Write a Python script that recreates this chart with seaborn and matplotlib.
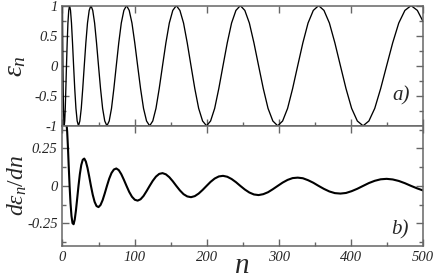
import seaborn as sns
import matplotlib.pyplot as plt
from matplotlib.ticker import FixedLocator, FixedFormatter, MultipleLocator

# values
n = [0, 0.04, 0.15, 0.35, 0.62, 0.96, 1.39, 1.89, 2.47, 3.12, 3.86, 4.66, 5.55, 6.52, 7.56, 8.67,
     9.87, 11.14, 12.49, 13.92, 15.42, 17.0, 18.66, 20.39, 22.21, 24.1, 26.06, 28.11, 30.23, 32.42, 34.7, 37.05,
     39.48, 41.98, 44.57, 47.23, 49.97, 52.78, 55.67, 58.64, 61.68, 64.81, 68.01, 71.29, 74.64, 78.07, 81.58, 85.16,
     88.83, 92.57, 96.38, 100.28, 104.25, 108.3, 112.42, 116.62, 120.9, 125.26, 129.69, 134.2, 138.79, 143.46, 148.2, 153.02,
     157.91, 162.89, 167.94, 173.06, 178.27, 183.55, 188.91, 194.35, 199.86, 205.45, 211.12, 216.86, 222.68, 228.58, 234.56, 240.61,
     246.74, 252.95, 259.23, 265.59, 272.03, 278.55, 285.14, 291.81, 298.55, 305.38, 312.28, 319.26, 326.31, 333.45, 340.66, 347.94,
     355.31, 362.75, 370.26, 377.86, 385.53, 393.28, 401.11, 409.01, 416.99, 425.05, 433.18, 441.39, 449.68, 458.05, 466.49, 475.01,
     483.61, 492.28, 500]

eps = [1, 0.92, 0.71, 0.38, 0, -0.38, -0.71, -0.92, -1, -0.92, -0.71, -0.38, 0, 0.38, 0.71, 0.92,
       1, 0.92, 0.71, 0.38, 0, -0.38, -0.71, -0.92, -1, -0.92, -0.71, -0.38, 0, 0.38, 0.71, 0.92,
       1, 0.92, 0.71, 0.38, 0, -0.38, -0.71, -0.92, -1, -0.92, -0.71, -0.38, 0, 0.38, 0.71, 0.92,
       1, 0.92, 0.71, 0.38, 0, -0.38, -0.71, -0.92, -1, -0.92, -0.71, -0.38, 0, 0.38, 0.71, 0.92,
       1, 0.92, 0.71, 0.38, 0, -0.38, -0.71, -0.92, -1, -0.92, -0.71, -0.38, 0, 0.38, 0.71, 0.92,
       1, 0.92, 0.71, 0.38, 0, -0.38, -0.71, -0.92, -1, -0.92, -0.71, -0.38, 0, 0.38, 0.71, 0.92,
       1, 0.92, 0.71, 0.38, 0, -0.38, -0.71, -0.92, -1, -0.92, -0.71, -0.38, 0, 0.38, 0.71, 0.92,
       1, 0.92, 0.74]

# derivative starts at n[11] (it enters from above the panel)
deps = [0.43, 0.42, 0.36, 0.26, 0.13, 0,
        -0.115, -0.2, -0.248, -0.255, -0.224, -0.164, -0.085, 0,
        0.078, 0.139, 0.174, 0.182, 0.162, 0.12, 0.063, 0,
        -0.059, -0.106, -0.134, -0.141, -0.127, -0.095, -0.05, 0,
        0.048, 0.086, 0.109, 0.116, 0.105, 0.078, 0.041, 0,
        -0.04, -0.072, -0.092, -0.098, -0.089, -0.067, -0.035, 0,
        0.034, 0.062, 0.08, 0.085, 0.077, 0.058, 0.031, 0,
        -0.03, -0.055, -0.07, -0.075, -0.068, -0.051, -0.027, 0,
        0.027, 0.049, 0.063, 0.067, 0.061, 0.046, 0.025, 0,
        -0.024, -0.044, -0.057, -0.061, -0.055, -0.042, -0.022, 0,
        0.022, 0.04, 0.052, 0.055, 0.051, 0.038, 0.021, 0,
        -0.02, -0.037, -0.048, -0.051, -0.047, -0.035, -0.019, 0,
        0.019, 0.034, 0.044, 0.047, 0.043, 0.033, 0.018, 0,
        -0.017, -0.03]

x_ticks = [0, 100, 200, 300, 400, 500]
x_labels = ["0", "100", "200", "300", "400", "500"]
top_ticks = [-1, -0.5, 0, 0.5, 1]
top_labels = ["-1", "-0.5", "0", "0.5", "1"]
bot_ticks = [-0.25, 0, 0.25]
bot_labels = ["-0.25", "0", "0.25"]

sns.set_style("ticks")
plt.rcParams['font.family'] = ['Liberation Serif', 'DejaVu Serif']
plt.rcParams['mathtext.fontset'] = 'custom'
plt.rcParams['mathtext.it'] = 'Liberation Serif:italic'
plt.rcParams['mathtext.rm'] = 'Liberation Serif'

fig, (ax1, ax2) = plt.subplots(2, 1, figsize=(4.36, 2.80), dpi=100, sharex=True)
fig.subplots_adjust(left=0.1433, right=0.970, top=0.980, bottom=0.1214, hspace=0)

sns.lineplot(x=n, y=eps, ax=ax1, color="black", lw=0.95, estimator=None, sort=False)
sns.lineplot(x=n[11:], y=deps, ax=ax2, color="black", lw=1.5, estimator=None, sort=False)

spine_col = "#666666"
for ax in (ax1, ax2):
    ax.set_xlim(0, 500)
    ax.xaxis.set_major_locator(FixedLocator(x_ticks))
    ax.xaxis.set_minor_locator(MultipleLocator(50))
    for s in ax.spines.values():
        s.set_visible(True)
        s.set_color(spine_col)
        s.set_linewidth(1.1)
    ax.tick_params(which="both", direction="in", color=spine_col, width=1.0,
                   left=True, right=True, top=True, bottom=True)
    ax.tick_params(which="major", length=5)
    ax.tick_params(which="minor", length=3)
    ax.tick_params(axis="x", which="minor", top=False)

ax1.set_ylim(-1, 1)
ax1.yaxis.set_major_locator(FixedLocator(top_ticks))
ax1.yaxis.set_major_formatter(FixedFormatter(top_labels))
ax1.yaxis.set_minor_locator(MultipleLocator(0.25))
ax1.tick_params(axis="x", labelbottom=False)

ax2.set_ylim(-0.4, 0.4)
ax2.yaxis.set_major_locator(FixedLocator(bot_ticks))
ax2.yaxis.set_major_formatter(FixedFormatter(bot_labels))
ax2.yaxis.set_minor_locator(MultipleLocator(0.125))
ax2.xaxis.set_major_formatter(FixedFormatter(x_labels))

for ax in (ax1, ax2):
    for lbl in ax.get_xticklabels() + ax.get_yticklabels():
        lbl.set_style("italic")
        lbl.set_fontsize(10.5)

ax1.set_ylabel(r"$\varepsilon_n$", fontsize=20)
ax2.set_ylabel(r"$d\varepsilon_n/dn$", fontsize=17)
ax1.yaxis.set_label_coords(-0.094, 0.5)
ax2.yaxis.set_label_coords(-0.092, 0.5)
ax2.set_xlabel("n", fontsize=21, style="italic", labelpad=-8)

ax1.text(0.94, 0.245, "a)", transform=ax1.transAxes, fontsize=15, style="italic",
         ha="center", va="center")
ax2.text(0.935, 0.135, "b)", transform=ax2.transAxes, fontsize=15, style="italic",
         ha="center", va="center")

plt.savefig("out.png", dpi=100)
